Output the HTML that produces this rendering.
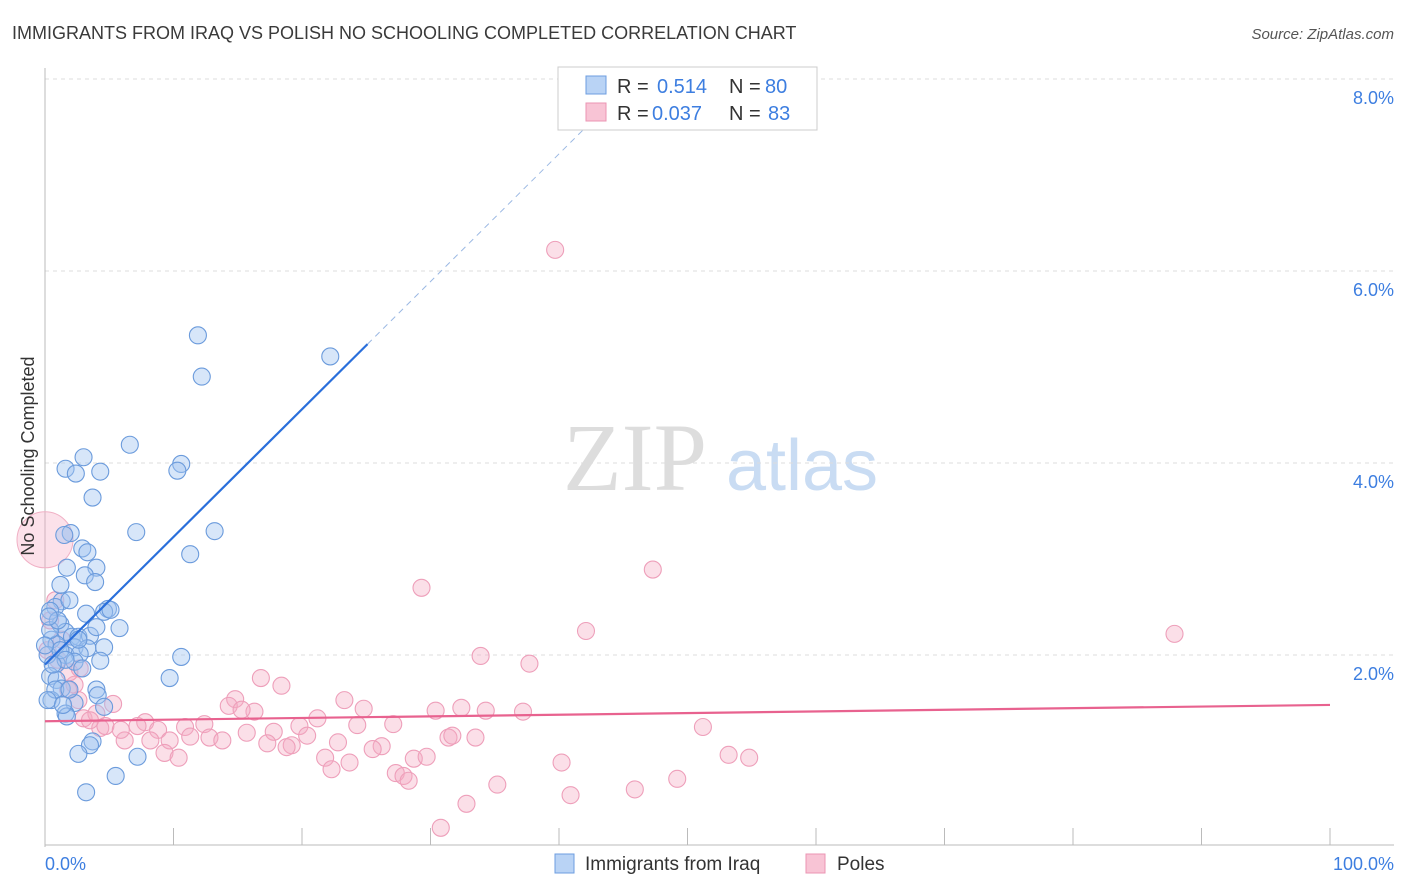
<!DOCTYPE html>
<html><head><meta charset="utf-8"><style>
body{margin:0;background:#fff;font-family:"Liberation Sans",sans-serif;}
svg{display:block}
</style></head><body>
<svg id="c" width="1406" height="892" xmlns="http://www.w3.org/2000/svg">
<text x="12" y="39" font-size="18" fill="#3a3a3a">IMMIGRANTS FROM IRAQ VS POLISH NO SCHOOLING COMPLETED CORRELATION CHART</text>
<text x="1394" y="39" font-size="15" fill="#555" font-style="italic" text-anchor="end">Source: ZipAtlas.com</text>
<g>
<text x="635" y="490" font-size="96" fill="#ddd" font-family="Liberation Serif,serif" text-anchor="middle">ZIP</text>
<text x="802" y="490" font-size="72" fill="#c9dcf3" text-anchor="middle">atlas</text>
</g>
<g id="grid"></g>
<g id="axes"></g>
<g id="pts"></g>
<g id="lines"></g>
<text x="34" y="456" font-size="18" fill="#333" transform="rotate(-90 34 456)" text-anchor="middle">No Schooling Completed</text>
<text x="45" y="870" font-size="18" fill="#3d7ee0">0.0%</text>
<text x="1394" y="870" font-size="18" fill="#3d7ee0" text-anchor="end">100.0%</text>
<g>
<rect x="558" y="67" width="259" height="63" fill="#fff" stroke="#ccc"/>
<rect x="586" y="76" width="20" height="18" fill="#b9d3f5" stroke="#6d9ee0"/>
<rect x="586" y="103" width="20" height="18" fill="#f8c4d5" stroke="#eb95b3"/>
<g font-size="20" fill="#333">
<text x="617" y="93">R =</text><text x="657" y="93" fill="#3d7ee0">0.514</text><text x="729" y="93">N =</text><text x="765" y="93" fill="#3d7ee0">80</text>
<text x="617" y="120">R =</text><text x="652" y="120" fill="#3d7ee0">0.037</text><text x="729" y="120">N =</text><text x="768" y="120" fill="#3d7ee0">83</text>
</g>
</g>
<g>
<rect x="555" y="854" width="19" height="19" fill="#b9d3f5" stroke="#6d9ee0"/>
<text x="585" y="870" font-size="19" fill="#333">Immigrants from Iraq</text>
<rect x="806" y="854" width="19" height="19" fill="#f8c4d5" stroke="#eb95b3"/>
<text x="837" y="870" font-size="19" fill="#333">Poles</text>
</g>
</svg>
<script>
const yTicks=[2,4,6,8];
const xTicks=[0,10,20,30,40,50,60,70,80,90,100];
const iraqX=[11.9,22.2,12.2,6.6,10.6,10.3,3.0,1.6,2.4,4.3,3.7,13.2,7.1,2.0,1.5,2.9,3.3,11.3,1.7,4.0,3.1,3.9,1.3,0.8,0.4,4.9,4.6,3.2,5.8,1.2,1.6,2.1,2.6,3.5,4.0,0.5,0.9,2.3,3.3,4.6,1.6,2.7,10.6,4.3,0.9,2.3,9.7,0.4,0.9,1.3,4.0,4.1,0.5,2.3,4.6,1.6,1.7,3.7,3.5,2.6,7.2,5.5,3.2,0.4,0.2,1.2,5.1,0.8,0.2,1.9,2.9,1.2,1.0,1.6,0.6,2.6,0.0,0.3,1.4,1.9];
const iraqY=[5.33,5.11,4.90,4.19,3.99,3.92,4.06,3.94,3.89,3.91,3.64,3.29,3.28,3.27,3.25,3.11,3.07,3.05,2.91,2.91,2.83,2.76,2.56,2.50,2.46,2.48,2.45,2.43,2.28,2.32,2.24,2.19,2.19,2.20,2.29,2.16,2.11,2.08,2.07,2.08,2.00,2.01,1.98,1.94,1.91,1.93,1.76,1.78,1.74,1.65,1.64,1.58,1.53,1.50,1.46,1.39,1.36,1.10,1.06,0.97,0.94,0.74,0.57,2.26,2.00,2.73,2.47,1.64,1.53,1.64,1.86,2.05,2.36,1.95,1.90,2.16,2.10,2.40,1.48,2.57];
const polesX=[39.7,29.3,47.3,42.1,87.9,33.9,37.7,16.8,18.4,14.8,23.3,14.3,24.8,30.4,32.4,34.3,37.2,16.3,21.2,15.3,19.8,24.3,27.1,10.9,12.4,7.8,8.8,51.2,17.8,15.7,11.3,12.8,13.8,8.2,9.7,6.2,17.3,19.2,20.4,22.8,26.2,25.5,31.4,31.7,33.5,9.3,10.4,18.8,21.8,23.7,28.7,29.7,53.2,54.8,40.2,27.3,27.9,28.3,22.3,49.2,35.2,45.9,40.9,32.8,30.8,3.0,4.0,5.3,4.3,4.7,3.5,2.3,1.9,1.0,1.3,0.4,0.8,0.2,2.7,1.8,2.6,5.9,7.2];
const polesY=[6.22,2.70,2.89,2.25,2.22,1.99,1.91,1.76,1.68,1.54,1.53,1.47,1.44,1.42,1.45,1.42,1.41,1.41,1.34,1.43,1.26,1.27,1.28,1.25,1.28,1.30,1.22,1.25,1.20,1.19,1.15,1.14,1.11,1.11,1.11,1.11,1.08,1.06,1.16,1.09,1.05,1.02,1.14,1.16,1.14,0.98,0.93,1.04,0.93,0.88,0.92,0.94,0.96,0.93,0.88,0.77,0.74,0.69,0.81,0.71,0.65,0.60,0.54,0.45,0.20,1.34,1.39,1.49,1.24,1.26,1.32,1.69,1.82,1.95,2.16,2.36,2.57,2.05,1.86,1.64,1.53,1.22,1.26];
const bigPole=[0.0,3.2];
const iraqTrend=[1.90,0.133];
const polesTrend=[1.31,0.0017];
const X=v=>45+v*12.85, Y=v=>847-v*96;
const NS='http://www.w3.org/2000/svg';
function mk(t,a,p){const e=document.createElementNS(NS,t);for(const k in a)e.setAttribute(k,a[k]);p.appendChild(e);return e;}
const grid=document.getElementById('grid'),axes=document.getElementById('axes'),pts=document.getElementById('pts'),lines=document.getElementById('lines');
yTicks.forEach(t=>{
 const l=mk('line',{x1:45,x2:1394,y1:Y(t),y2:Y(t),stroke:'#ddd','stroke-dasharray':'4,4'},grid);
 
 
 const tx=mk('text',{x:1394,y:Y(t)+25,'font-size':18,fill:'#3d7ee0','text-anchor':'end'},grid);
 tx.textContent=t.toFixed(1)+'%';
 
 
});
const ax=mk('line',{x1:45,x2:45,y1:68,y2:847,stroke:'#bbb'},axes);


const xa=mk('line',{x1:45,x2:1394,y1:845,y2:845,stroke:'#bbb'},axes);


xTicks.forEach(t=>{
 const l=mk('line',{x1:X(t),x2:X(t),y1:828,y2:845,stroke:'#bbb'},axes);
 
 
});
const bp=mk('circle',{cx:X(bigPole[0]),cy:Y(bigPole[1]),r:28,fill:'rgba(245,170,195,0.35)',stroke:'#f0b0c5'},pts);


polesX.forEach((v,i)=>{
 const c=mk('circle',{cx:X(v),cy:Y(polesY[i]),r:8.5,fill:'rgba(245,170,195,0.38)',stroke:'#ee9fba','stroke-width':1.1},pts);
 
 
});
iraqX.forEach((v,i)=>{
 const c=mk('circle',{cx:X(v),cy:Y(iraqY[i]),r:8.5,fill:'rgba(160,196,240,0.42)',stroke:'#6b9bdc','stroke-width':1.1},pts);
 
 
});
const il=mk('line',{x1:X(0),y1:Y(iraqTrend[0]),x2:X(25.1),y2:Y(iraqTrend[0]+iraqTrend[1]*25.1),stroke:'#2a6fdb','stroke-width':2.2},lines);


const id=mk('line',{x1:X(25.1),y1:Y(iraqTrend[0]+iraqTrend[1]*25.1),x2:X(42.5),y2:Y(iraqTrend[0]+iraqTrend[1]*42.5),stroke:'#9bb8e3','stroke-width':1,'stroke-dasharray':'6,5'},lines);


const pl=mk('line',{x1:X(0),y1:Y(polesTrend[0]),x2:X(100),y2:Y(polesTrend[0]+polesTrend[1]*100),stroke:'#e8628f','stroke-width':2.2},lines);


</script>
</body></html>
